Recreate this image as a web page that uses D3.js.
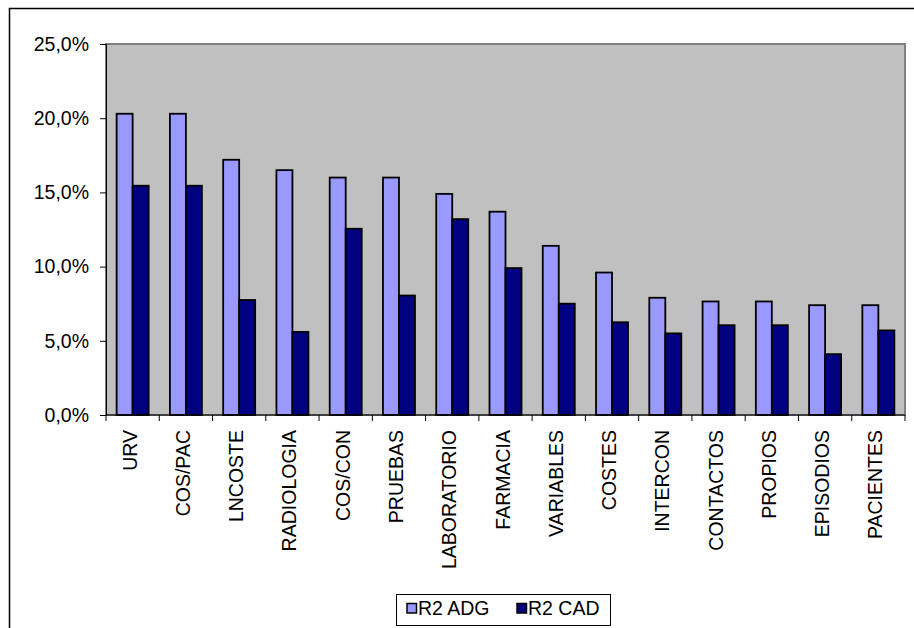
<!DOCTYPE html>
<html>
<head>
<meta charset="utf-8">
<script src="https://cdn.jsdelivr.net/npm/d3@7"></script>
<style>
  html, body { margin: 0; padding: 0; background: #fff; }
  svg { display: block; font-family: "Liberation Sans", Arial, sans-serif; }
</style>
</head>
<body>
<svg id="chart" width="914" height="628"></svg>
<script>
// Categories and R² values (percent) for each model
const categories = ["URV", "COS/PAC", "LNCOSTE", "RADIOLOGIA", "COS/CON", "PRUEBAS",
  "LABORATORIO", "FARMACIA", "VARIABLES", "COSTES", "INTERCON", "CONTACTOS",
  "PROPIOS", "EPISODIOS", "PACIENTES"];
const r2ADG = [20.3, 20.3, 17.2, 16.5, 16.0, 16.0, 14.9, 13.7, 11.4, 9.6, 7.9, 7.65, 7.65, 7.4, 7.4];
const r2CAD = [15.45, 15.45, 7.75, 5.6, 12.55, 8.05, 13.2, 9.9, 7.5, 6.25, 5.5, 6.05, 6.05, 4.1, 5.7];
const seriesNames = ["R2 ADG", "R2 CAD"];
const seriesColors = ["#9999FF", "#000080"];
const yTicks = [0, 5, 10, 15, 20, 25];

const FONT = 19.5;
const svg = d3.select("#chart");

// Outer chart frame (extends past the right and bottom edges)
svg.append("rect")
  .attr("x", 9.5).attr("y", 8.5)
  .attr("width", 960).attr("height", 700)
  .attr("fill", "#fff").attr("stroke", "#000").attr("stroke-width", 1.5);

const plot = { left: 106, top: 44, right: 905, bottom: 415 };

const x = d3.scaleBand()
  .domain(categories)
  .range([plot.left, plot.right])
  .paddingInner(0).paddingOuter(0);

const xs = d3.scaleBand()
  .domain(seriesNames)
  .range([0, 32]);

const y = d3.scaleLinear()
  .domain([0, 25])
  .range([plot.bottom, plot.top]);

// Plot area background
svg.append("rect")
  .attr("x", plot.left).attr("y", plot.top)
  .attr("width", plot.right - plot.left).attr("height", plot.bottom - plot.top)
  .attr("fill", "#C0C0C0").attr("stroke", "#808080").attr("stroke-width", 2);

// Bars
const rows = categories.map((c, i) => ({ cat: c, vals: [r2ADG[i], r2CAD[i]] }));
const groups = svg.append("g").selectAll("g")
  .data(rows).join("g")
  .attr("transform", d => `translate(${x(d.cat) + (x.bandwidth() - 32) / 2},0)`);

groups.selectAll("rect")
  .data(d => d.vals.map((v, k) => ({ v, k })))
  .join("rect")
  .attr("x", d => xs(seriesNames[d.k]))
  .attr("width", xs.bandwidth())
  .attr("y", d => y(d.v))
  .attr("height", d => y(0) - y(d.v))
  .attr("fill", d => seriesColors[d.k])
  .attr("stroke", "#000").attr("stroke-width", 1.8);

// Y axis
const yAxis = d3.axisLeft(y)
  .tickValues(yTicks)
  .tickSize(6)
  .tickPadding(11)
  .tickFormat(d => d3.format(".1f")(d).replace(".", ",") + "%");

const gy = svg.append("g")
  .attr("transform", `translate(${plot.left},0)`)
  .call(yAxis);
gy.select(".domain").attr("stroke", "#000").attr("stroke-width", 1);
gy.selectAll(".tick line").attr("stroke", "#000");
gy.selectAll(".tick text").attr("font-size", FONT).attr("fill", "#000")
  .attr("font-family", "Liberation Sans, Arial, sans-serif");

// X axis: tick marks at category boundaries, rotated labels at band centres
const gx = svg.append("g");
gx.append("line")
  .attr("x1", plot.left).attr("x2", plot.right)
  .attr("y1", plot.bottom).attr("y2", plot.bottom)
  .attr("stroke", "#000");
const bounds = categories.map(c => x(c)).concat([plot.right]);
gx.selectAll("line.tk").data(bounds).join("line")
  .attr("class", "tk")
  .attr("x1", d => d).attr("x2", d => d)
  .attr("y1", plot.bottom).attr("y2", plot.bottom + 6)
  .attr("stroke", "#000");
gx.selectAll("text").data(categories).join("text")
  .attr("transform", d => `translate(${x(d) + x.bandwidth() / 2 + 4},${plot.bottom + 15}) rotate(-90)`)
  .attr("text-anchor", "end")
  .attr("font-size", FONT)
  .attr("fill", "#000")
  .text(d => d);

// Legend
const lg = svg.append("g").attr("transform", "translate(396,594)");
lg.append("rect").attr("x", 0.5).attr("y", 0.5).attr("width", 214).attr("height", 31)
  .attr("fill", "#fff").attr("stroke", "#000").attr("stroke-width", 1);
const items = lg.selectAll("g.item").data(seriesNames).join("g")
  .attr("class", "item")
  .attr("transform", (d, i) => `translate(${i === 0 ? 11 : 121},0)`);
items.append("rect")
  .attr("x", 0).attr("y", 9.5).attr("width", 9.5).attr("height", 9.5)
  .attr("fill", (d, i) => seriesColors[i])
  .attr("stroke", "#000").attr("stroke-width", 1.5);
items.append("text")
  .attr("x", 11).attr("y", 21)
  .attr("font-size", FONT).attr("fill", "#000")
  .text(d => d);
</script>
</body>
</html>
